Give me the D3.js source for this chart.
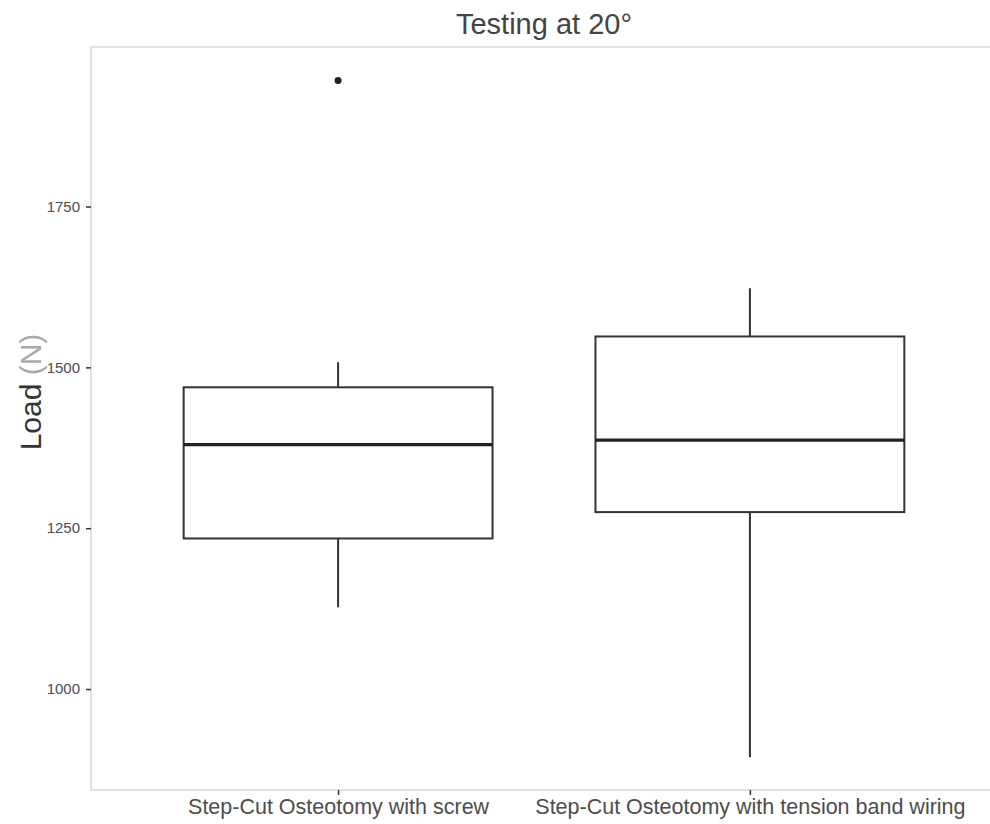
<!DOCTYPE html>
<html>
<head>
<meta charset="utf-8">
<script src="https://cdn.jsdelivr.net/npm/d3@7.9.0/dist/d3.min.js"></script>
<style>
  body { margin: 0; background: #fff; }
  svg { display: block; font-family: "Liberation Sans", Arial, sans-serif; }
  svg text { font-family: "Liberation Sans", Arial, sans-serif; }
</style>
</head>
<body>
<svg id="chart" width="990" height="824"></svg>
<script>
const groups = ['Step-Cut Osteotomy with screw', 'Step-Cut Osteotomy with tension band wiring'];
const whiskerLow = [1127, 894];
const q1 = [1234, 1275];
const median = [1380, 1387];
const q3 = [1469, 1548];
const whiskerHigh = [1508, 1623];
const outliers = [[1946], []];
const yTicks = [1000, 1250, 1500, 1750];

const svg = d3.select('#chart');

const panelLeft = 91, panelRight = 997, panelTop = 47, panelBottom = 790;

const x = d3.scaleLinear().domain([0.4, 2.6]).range([panelLeft, panelRight]);
const y = d3.scaleLinear().domain([843, 1998]).range([panelBottom, panelTop]);
const boxW = x(0.75) - x(0);

// panel border
svg.append('rect')
    .attr('x', panelLeft).attr('y', panelTop)
    .attr('width', panelRight - panelLeft).attr('height', panelBottom - panelTop)
    .attr('fill', 'none').attr('stroke', '#d9d9d9').attr('stroke-width', 1.5);

// y axis
const yAxis = svg.append('g')
    .attr('transform', `translate(${panelLeft},0)`)
    .call(d3.axisLeft(y).tickValues(yTicks).tickFormat(d3.format('d')).tickSize(5).tickPadding(6));
yAxis.select('.domain').remove();
yAxis.selectAll('line').attr('stroke', '#333').attr('stroke-width', 1.5);
yAxis.selectAll('text').attr('fill', '#4d4d4d').style('font-size', '15px');

// x axis
const xAxis = svg.append('g')
    .attr('transform', `translate(0,${panelBottom})`)
    .call(d3.axisBottom(x).tickValues([1, 2]).tickFormat((d) => groups[d - 1]).tickSize(5).tickPadding(4));
xAxis.select('.domain').remove();
xAxis.selectAll('line').attr('stroke', '#333').attr('stroke-width', 1.5);
xAxis.selectAll('text').attr('fill', '#4d4d4d').style('font-size', '21.5px');

// boxes
groups.forEach((g, i) => {
    let cx = x(i + 1);
    let box = svg.append('g');

    box.append('line')
        .attr('x1', cx).attr('x2', cx)
        .attr('y1', y(q3[i])).attr('y2', y(whiskerHigh[i]))
        .attr('stroke', '#333').attr('stroke-width', 2);
    box.append('line')
        .attr('x1', cx).attr('x2', cx)
        .attr('y1', y(q1[i])).attr('y2', y(whiskerLow[i]))
        .attr('stroke', '#333').attr('stroke-width', 2);

    box.append('rect')
        .attr('x', cx - boxW / 2).attr('width', boxW)
        .attr('y', y(q3[i])).attr('height', y(q1[i]) - y(q3[i]))
        .attr('fill', '#fff').attr('stroke', '#333').attr('stroke-width', 2);

    box.append('line')
        .attr('x1', cx - boxW / 2).attr('x2', cx + boxW / 2)
        .attr('y1', y(median[i])).attr('y2', y(median[i]))
        .attr('stroke', '#222').attr('stroke-width', 3.2);

    outliers[i].forEach((v) => {
        box.append('circle')
            .attr('cx', cx).attr('cy', y(v)).attr('r', 3.5)
            .attr('fill', '#222');
    });
});

// title
svg.append('text')
    .attr('x', (panelLeft + panelRight) / 2).attr('y', 34)
    .attr('text-anchor', 'middle')
    .attr('fill', '#444')
    .style('font-size', '29px')
    .text('Testing at 20°');

// y label
const ylab = svg.append('text')
    .attr('transform', 'translate(41,392) rotate(-90)')
    .attr('text-anchor', 'middle')
    .style('font-size', '30px');
ylab.append('tspan').attr('fill', '#333').text('Load ');
ylab.append('tspan').attr('fill', '#aaa').text('(N)');
</script>
</body>
</html>
